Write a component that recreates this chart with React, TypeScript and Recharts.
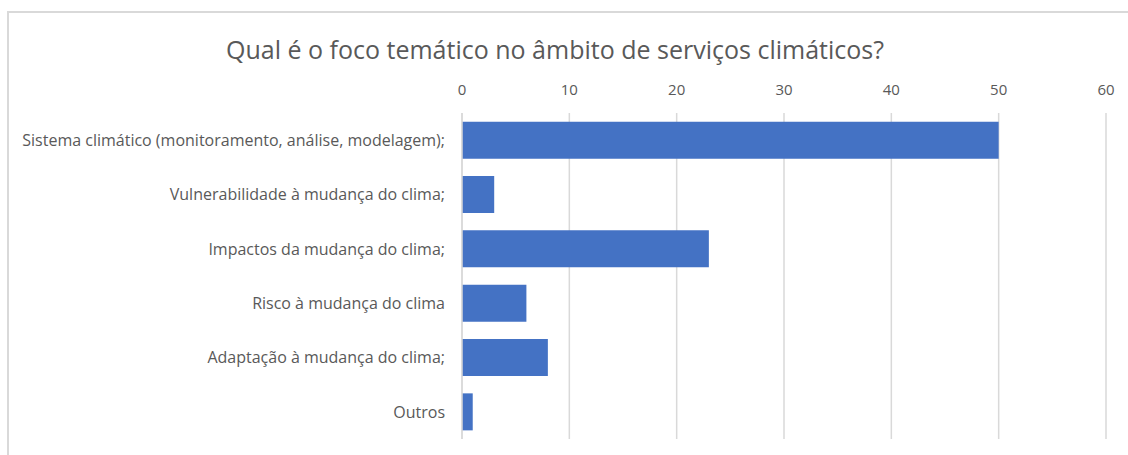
import React from "react";
import { BarChart, Bar, XAxis, YAxis, CartesianGrid } from "recharts";

const categories = [
  "Sistema climático (monitoramento, análise, modelagem);",
  "Vulnerabilidade à mudança do clima;",
  "Impactos da mudança do clima;",
  "Risco à mudança do clima",
  "Adaptação à mudança do clima;",
  "Outros",
];
const values = [50, 3, 23, 6, 8, 1];
const xTicks = [0, 10, 20, 30, 40, 50, 60];
const title = "Qual é o foco temático no âmbito de serviços climáticos?";

const data = categories.map((c, i) => ({ name: c, value: values[i] }));

const FONT = "'Open Sans', sans-serif";
const TEXT = "#595959";
const GRID = "#d9d9d9";

export default function App() {
  return (
    <div style={{ position: "absolute", left: 0, top: 0, width: 1128, height: 455, background: "#fff", overflow: "hidden", fontFamily: FONT }}>
      <div style={{ position: "absolute", left: 7, top: 11, width: 1200, height: 500, border: `2px solid ${GRID}`, boxSizing: "border-box" }} />
      <div style={{ position: "absolute", left: 0, top: 32, width: 1110, textAlign: "center", fontSize: 25, color: TEXT, fontFamily: FONT, whiteSpace: "nowrap" }}>
        {title}
      </div>
      <div style={{ position: "absolute", left: 0, top: 0 }}>
        <BarChart
          width={1128}
          height={455}
          data={data}
          layout="vertical"
          margin={{ top: 83, right: 22, bottom: 16, left: 0 }}
          barCategoryGap="16%"
        >
          <CartesianGrid horizontal={false} vertical={true} stroke={GRID} strokeWidth={1.5} />
          <XAxis
            type="number"
            orientation="top"
            domain={[0, 60]}
            ticks={xTicks}
            height={30}
            axisLine={false}
            tickLine={false}
            tickMargin={12}
            tick={{ fill: TEXT, fontSize: 15, fontFamily: FONT }}
            interval={0}
          />
          <YAxis
            type="category"
            dataKey="name"
            width={462}
            axisLine={{ stroke: GRID, strokeWidth: 1.5 }}
            tickLine={false}
            tickMargin={11}
            tick={{ fill: TEXT, fontSize: 16, fontFamily: FONT }}
            interval={0}
          />
          <Bar dataKey="value" fill="#4472C4" isAnimationActive={false} />
        </BarChart>
      </div>
    </div>
  );
}
